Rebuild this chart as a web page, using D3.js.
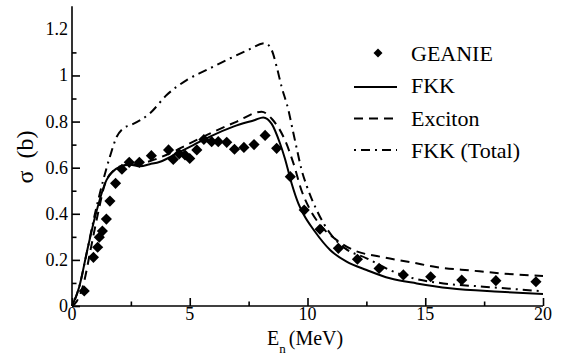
<!DOCTYPE html>
<html>
<head>
<meta charset="utf-8">
<script src="https://cdn.jsdelivr.net/npm/d3@7"></script>
</head>
<body style="margin:0">
<script>
// GEANIE data points
const geanieE = [0.52, 0.91, 1.09, 1.16, 1.29, 1.46, 1.61, 1.85, 2.12, 2.43, 2.86, 3.37, 4.1, 4.3, 4.55, 4.8, 5.0, 5.3,
  5.6, 5.93, 6.21, 6.57, 6.9, 7.3, 7.73, 8.2, 8.69, 9.27, 9.86, 10.53, 11.31, 12.12, 13.04, 14.07, 15.23, 16.55, 18.0, 19.7];
const geanieS = [0.065, 0.211, 0.255, 0.298, 0.325, 0.377, 0.455, 0.532, 0.593, 0.623, 0.623, 0.652, 0.677, 0.636, 0.66,
  0.655, 0.64, 0.677, 0.722, 0.713, 0.713, 0.71, 0.68, 0.688, 0.70, 0.74, 0.684, 0.561, 0.416, 0.333, 0.25, 0.203, 0.163,
  0.135, 0.127, 0.113, 0.11, 0.105];

// FKK (solid)
const fkkE = [0, 0.3, 0.65, 0.98, 1.47, 2.04, 2.46, 2.9, 3.3, 3.74, 4.45, 5.15, 5.86, 6.85, 7.77, 8.12, 8.48, 8.83, 9.04,
  9.33, 9.61, 9.82, 10.32, 10.96, 11.66, 12.51, 13.5, 14.64, 16.05, 18.17, 20];
const fkkS = [0, 0.08, 0.243, 0.387, 0.547, 0.604, 0.613, 0.606, 0.615, 0.626, 0.662, 0.698, 0.735, 0.778, 0.807, 0.818,
  0.79, 0.706, 0.64, 0.53, 0.445, 0.40, 0.322, 0.243, 0.192, 0.156, 0.12, 0.098, 0.077, 0.062, 0.052];

// Exciton (dashed)
const excE = [0, 0.2, 0.5, 0.8, 1.1, 1.4, 1.8, 2.2, 3.0, 4.0, 5.0, 6.0, 7.0, 8.05, 8.5, 9.04, 9.4, 9.75, 10.1, 10.6,
  11.24, 11.94, 13.08, 14.49, 15.34, 17.04, 18.17, 20];
const excS = [0, 0.02, 0.1, 0.25, 0.4, 0.53, 0.59, 0.61, 0.62, 0.655, 0.705, 0.755, 0.8, 0.843, 0.81, 0.72, 0.62, 0.5,
  0.42, 0.344, 0.286, 0.243, 0.214, 0.188, 0.171, 0.153, 0.142, 0.13];

// FKK (Total) (dash-dot)
const totE = [0, 0.3, 0.62, 0.98, 1.33, 1.61, 1.9, 2.18, 2.5, 3.31, 4.02, 4.87, 5.72, 6.57, 7.42, 8.2, 8.48, 8.69, 8.9,
  9.19, 9.37, 9.55, 9.75, 9.97, 10.39, 10.96, 11.6, 12.51, 13.5, 14.49, 15.77, 17.47, 20];
const totS = [0, 0.08, 0.228, 0.402, 0.547, 0.648, 0.734, 0.771, 0.785, 0.836, 0.915, 0.98, 1.024, 1.067, 1.108, 1.14,
  1.11, 1.038, 0.951, 0.85, 0.764, 0.68, 0.59, 0.52, 0.416, 0.315, 0.25, 0.207, 0.156, 0.12, 0.098, 0.084, 0.064];

const xTicks = [0, 5, 10, 15, 20];
const yTicks = [0, 0.2, 0.4, 0.6, 0.8, 1, 1.2];
const legendNames = ["GEANIE", "FKK", "Exciton", "FKK (Total)"];

const W = 563, H = 362;
const FAM = ["Liberation", "Serif"].join(" ");
function serif(sel, size) {
  sel.node().style.setProperty("font-family", FAM);
  sel.node().style.setProperty("font-size", size + "px");
}
const svg = d3.select("body").append("svg")
  .attr("width", W)
  .attr("height", H)

const x = d3.scaleLinear().domain([0, 20]).range([72, 543]);
const y = d3.scaleLinear().domain([0, 1.3]).range([306, 6.3]);

function zip(a, b) { return a.map((v, i) => ({ e: v, s: b[i] })); }

// axes, ticks inward
const xAxis = svg.append("g")
  .attr("transform", `translate(0,${y(0)})`)
  .call(d3.axisTop(x).tickValues(d3.range(0, 20.01, 2.5)).tickSize(4.5).tickFormat(""));
xAxis.selectAll(".tick line").filter(d => d % 5 === 0).attr("y2", -8);
xAxis.select(".domain").attr("d", `M${x(0)},0H${x(20)}`);

const yAxis = svg.append("g")
  .attr("transform", `translate(${x(0)},0)`)
  .call(d3.axisRight(y).tickValues(d3.range(0, 12).map(i => i / 10)).tickSize(4.5).tickFormat(""));
yAxis.selectAll(".tick line").filter(d => Math.round(d * 10) % 2 === 0).attr("x2", 8);
yAxis.select(".domain").attr("d", `M0,${y(0)}V${y(1.3)}`);

svg.selectAll(".domain, .tick line").attr("stroke", "#000").attr("stroke-width", 1.6);

// tick labels
svg.selectAll(".xlab")
  .data(xTicks)
  .join("text")
  .attr("x", d => x(d))
  .attr("y", 320)
  .attr("text-anchor", "middle")
  .text(d => d)
  .each(function () { serif(d3.select(this), 18); });

svg.selectAll(".ylab")
  .data(yTicks)
  .join("text")
  .attr("x", 68)
  .attr("y", d => y(d) + 6)
  .attr("text-anchor", "end")
  .text(d => d)
  .each(function () { serif(d3.select(this), 18); });

// axis titles
const xt = svg.append("text")
  .attr("x", 267)
  .attr("y", 345);
serif(xt, 20);
xt.append("tspan").text("E");
xt.append("tspan").attr("dy", 8).attr("font-size", 13).text("n");
xt.append("tspan").attr("dy", -8).attr("dx", 3).text("(MeV)");

const yt = svg.append("text")
  .attr("transform", "translate(33,157) rotate(-90)")
  .attr("text-anchor", "middle")
  .text("σ\u00a0\u00a0(b)");
serif(yt, 24);

// lines
const line = d3.line().x(d => x(d.e)).y(d => y(d.s)).curve(d3.curveMonotoneX);

const series = [
  { name: "FKK", data: zip(fkkE, fkkS), dash: null },
  { name: "Exciton", data: zip(excE, excS), dash: "9,6" },
  { name: "FKK (Total)", data: zip(totE, totS), dash: "2,5,9,5" }
];

svg.selectAll(".line")
  .data(series)
  .join("path")
  .attr("fill", "none")
  .attr("stroke", "#000")
  .attr("stroke-width", 2)
  .attr("stroke-dasharray", d => d.dash)
  .attr("d", d => line(d.data));

// GEANIE diamonds
const diamond = d3.symbol(d3.symbolSquare, 62);
svg.selectAll(".pt")
  .data(zip(geanieE, geanieS))
  .join("path")
  .attr("transform", d => `translate(${x(d.e)},${y(d.s)}) rotate(45)`)
  .attr("d", diamond)
  .attr("fill", "#000");

// legend
svg.append("path")
  .attr("transform", "translate(378,53) rotate(45)")
  .attr("d", d3.symbol(d3.symbolSquare, 40))
  .attr("fill", "#000");

const legend = svg.selectAll("g.legend")
  .data(series)
  .enter()
  .append("g")
  .attr("class", "legend");

legend.append("line")
  .attr("x1", 354)
  .attr("x2", 397)
  .attr("y1", (d, i) => 87 + i * 31.5)
  .attr("y2", (d, i) => 87 + i * 31.5)
  .attr("stroke", "#000")
  .attr("stroke-width", 2)
  .attr("stroke-dasharray", d => d.dash);

svg.selectAll(".legtext")
  .data(legendNames)
  .join("text")
  .attr("x", 411)
  .attr("y", (d, i) => 61 + i * 32.3)
  .text(d => d)
  .each(function () { serif(d3.select(this), 22); });
</script>
</body>
</html>
